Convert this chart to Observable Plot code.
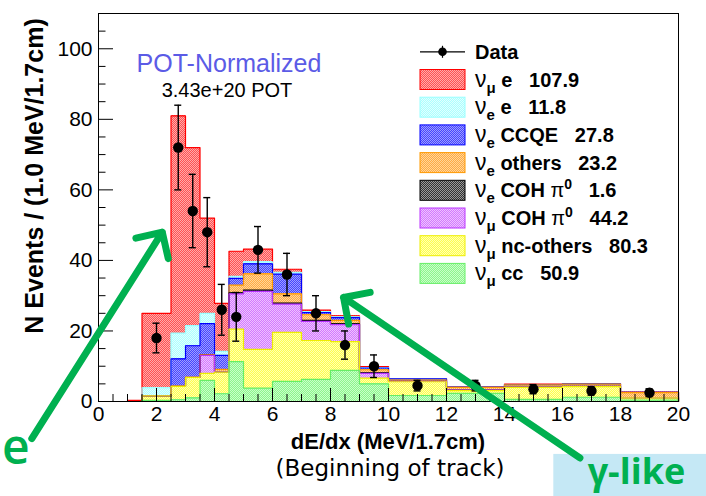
<!DOCTYPE html>
<html>
<head>
<meta charset="utf-8">
<script src="https://cdn.jsdelivr.net/npm/d3@7"></script>
<script src="https://cdn.jsdelivr.net/npm/@observablehq/plot@0.6"></script>
<style>
  html, body { margin: 0; padding: 0; background: #fff; }
  #chart { width: 706px; height: 496px; overflow: hidden; }
  #chart svg { display: block; }
</style>
</head>
<body>
<div id="chart"></div>
<script>
// Variable-width bins in dE/dx (MeV/1.7cm), contents normalised per 1.0 MeV/1.7cm
const binLow  = [1.0, 1.5, 2.5, 3.0, 3.5, 4.0, 4.5, 5, 6, 7, 8, 9, 10, 12, 14, 16, 18];
const binHigh = [1.5, 2.5, 3.0, 3.5, 4.0, 4.5, 5.0, 6, 7, 8, 9, 10, 12, 14, 16, 18, 20];

// MC contributions per bin (bottom of the stack first)
const numuCC     = [0, 0.3, 0.5, 1.0, 6.0, 2.2, 11.3, 3.8, 5.7, 6.3, 8.8, 5.0, 1.7, 2.3, 0.6, 1.2, 0.4];
const numuNC     = [0, 1.3, 3.8, 5.8, 2.0, 6.1, 9.2, 11.0, 13.9, 11.0, 8.2, 1.6, 3.9, 0.8, 3.4, 3.0, 0.6];
const numuCOHpi0 = [0, 0, 0, 0, 5.1, 0.1, 10.0, 16.4, 8.0, 5.4, 4.8, 1.4, 0.1, 0.1, 0.1, 0.1, 0.1];
const nueCOHpi0  = [0, 0, 0, 0, 0, 0, 0.3, 0.4, 0.3, 0.3, 0.2, 0.1, 0, 0, 0, 0, 0];
const nueOthers  = [0, 0, 0.1, 0.1, 0.2, 0.7, 2.2, 4.6, 2.6, 1.6, 1.0, 0.9, 0.4, 0.8, 0.6, 0.6, 1.4];
const nueCCQE    = [0, 0, 7.7, 8.9, 8.8, 4.0, 1.9, 2.8, 5.6, 0.6, 0.8, 0.5, 0.3, 0.1, 0.1, 0.1, 0.1];
const nueE       = [0, 2.3, 7.3, 5.7, 2.9, 1.1, 0.6, 0.6, 0.5, 0.3, 0.2, 0.1, 0, 0, 0, 0, 0];
const numuE      = [0.3, 21.1, 61.6, 50.5, 27.0, 13.6, 7.1, 3.6, 0.9, 0.4, 0.3, 0.3, 0.1, 0.1, 0.1, 0.1, 0.1];

// Data points with statistical errors
const dataX   = [2, 2.75, 3.25, 3.75, 4.25, 4.75, 5.5, 6.5, 7.5, 8.5, 9.5, 11, 13, 15, 17, 19];
const dataY   = [18, 72, 54, 48, 26, 24, 43, 36, 25, 16, 10, 4.5, 4.5, 3.5, 3.0, 2.5];
const dataErr = [4.2, 12, 10.4, 9.8, 7.2, 6.9, 6.6, 6.0, 5.0, 4.0, 3.2, 1.5, 1.5, 1.3, 1.2, 1.1];

// Legend (top to bottom)
const legendNu      = ["μ", "e", "e", "e", "e", "μ", "μ", "μ"];
const legendProcess = ["e", "e", "CCQE", "others", "COH", "COH", "nc-others", "cc"];
const legendPi0     = [false, false, false, false, true, true, false, false];
const legendTotal   = ["107.9", "11.8", "27.8", "23.2", "1.6", "44.2", "80.3", "50.9"];

// Axis ticks
const xMajor = [0, 2, 4, 6, 8, 10, 12, 14, 16, 18, 20];
const xMinor = [0.5,1,1.5,2.5,3,3.5,4.5,5,5.5,6.5,7,7.5,8.5,9,9.5,10.5,11,11.5,12.5,13,13.5,14.5,15,15.5,16.5,17,17.5,18.5,19,19.5];
const yMajor = [0, 20, 40, 60, 80, 100];
const yMinor = [5,10,15,25,30,35,45,50,55,65,70,75,85,90,95,105];

// Stack layers, bottom first, with their drawing styles
const layers = [
  {key: "numuCC",     values: numuCC,     dark: "#8df58d", light: "#c8ffc8", line: "#66ee66"},
  {key: "numuNC",     values: numuNC,     dark: "#ffff4a", light: "#ffffb4", line: "#eeee00"},
  {key: "numuCOHpi0", values: numuCOHpi0, dark: "#d27bff", light: "#efc2ff", line: "#bb33ff"},
  {key: "nueCOHpi0",  values: nueCOHpi0,  dark: "#333333", light: "#999999", line: "#000000"},
  {key: "nueOthers",  values: nueOthers,  dark: "#ffaa44", light: "#ffd699", line: "#ff9900"},
  {key: "nueCCQE",    values: nueCCQE,    dark: "#4646ff", light: "#9e9eff", line: "#0000ff"},
  {key: "nueE",       values: nueE,       dark: "#aaffff", light: "#e2ffff", line: "#99ffff"},
  {key: "numuE",      values: numuE,      dark: "#ff5252", light: "#ffaaaa", line: "#ff0000"}
];

// Cumulative stacking of the layers
const base = binLow.map(() => 0);
const boxes = [];
const outlines = [];
layers.forEach((L, k) => {
  L.values.forEach((v, i) => {
    if (v > 0) boxes.push({layer: k, x1: binLow[i], x2: binHigh[i], y1: base[i], y2: base[i] + v});
    base[i] += v;
  });
  const pts = [{x: binLow[0], y: 0}];
  base.forEach((t, i) => { pts.push({x: binLow[i], y: t}); pts.push({x: binHigh[i], y: t}); });
  pts.push({x: binHigh[binHigh.length - 1], y: 0});
  outlines[k] = pts;
});

const points = dataX.map((x, i) => ({x, y: dataY[i], e: dataErr[i]}));

// Overlay annotations, in axis units
const annotationArrows = [
  {x1: -2.3, y1: -10.5, x2: 2.2, y2: 48.0},
  {x1: 16.6, y1: -16.0, x2: 8.45, y2: 29.5}
];
const annotationE     = [{x: -2.85, y: -13.5, text: "e"}];
const annotationGamma = [{x: 18.55, y: -20.0, text: "γ-like"}];

const green = "#00b050";
const font = "'Liberation Sans', Arial, Helvetica, sans-serif";

const marks = [];
// γ-like label backdrop
marks.push(Plot.rect([{x1: 15.7, x2: 21.2, y1: -27.5, y2: -15.0}], {x1: "x1", x2: "x2", y1: "y1", y2: "y2", fill: "#c5e8f5"}));
// stacked fills
layers.forEach((L, k) => {
  marks.push(Plot.rect(boxes.filter(b => b.layer === k), {
    x1: "x1", x2: "x2", y1: "y1", y2: "y2", inset: 0,
    fill: `url(#pat-${L.key})`, shapeRendering: "crispEdges"
  }));
});
// histogram outlines, total first so lower layers paint over coincident edges
for (let k = layers.length - 1; k >= 0; k--) {
  marks.push(Plot.line(outlines[k], {x: "x", y: "y", stroke: layers[k].line, strokeWidth: 1.2}));
}
// axis ticks (inside the frame)
marks.push(
  Plot.ruleX(xMajor, {x: d => d, y1: 0, y2: 0, insetTop: -13, stroke: "#000", strokeWidth: 1}),
  Plot.ruleX(xMinor, {x: d => d, y1: 0, y2: 0, insetTop: -7, stroke: "#000", strokeWidth: 1}),
  Plot.ruleY(yMajor, {y: d => d, x1: 0, x2: 0, insetRight: -15, stroke: "#000", strokeWidth: 1}),
  Plot.ruleY(yMinor, {y: d => d, x1: 0, x2: 0, insetRight: -7.5, stroke: "#000", strokeWidth: 1})
);
// data with error bars
marks.push(
  Plot.ruleX(points, {x: "x", y1: d => d.y - d.e, y2: d => d.y + d.e, stroke: "#000", strokeWidth: 1.4}),
  Plot.ruleY(points, {y: d => d.y + d.e, x1: "x", x2: "x", insetLeft: -3.5, insetRight: -3.5, stroke: "#000", strokeWidth: 1.4}),
  Plot.ruleY(points, {y: d => d.y - d.e, x1: "x", x2: "x", insetLeft: -3.5, insetRight: -3.5, stroke: "#000", strokeWidth: 1.4}),
  Plot.dot(points, {x: "x", y: "y", r: 5.2, fill: "#000", stroke: "none"})
);
// axes and frame
marks.push(
  Plot.axisX(xMajor, {tickSize: 0, tickPadding: 5, fontSize: 21, label: null, fill: "#000"}),
  Plot.axisY(yMajor, {tickSize: 0, tickPadding: 6, fontSize: 21, label: null, fill: "#000"}),
  Plot.frame({stroke: "#000", strokeWidth: 1})
);
// green overlay arrows and labels
marks.push(
  Plot.arrow(annotationArrows, {x1: "x1", y1: "y1", x2: "x2", y2: "y2", stroke: green, strokeWidth: 7,
    headLength: 5.8, headAngle: 90, strokeLinecap: "round", strokeLinejoin: "round"}),
  Plot.text(annotationE, {x: "x", y: "y", text: "text", fill: green, fontSize: 48, fontFamily: "'Open Sans', 'DejaVu Sans', sans-serif", fontWeight: 600}),
  Plot.text(annotationGamma, {x: "x", y: "y", text: "text", fill: green, fontSize: 36, fontFamily: "'Open Sans', 'DejaVu Sans', sans-serif", fontWeight: 700})
);

const svg = Plot.plot({
  width: 706,
  height: 496,
  marginLeft: 98,
  marginRight: 28,
  marginTop: 13,
  marginBottom: 95,
  x: {domain: [0, 20]},
  y: {domain: [0, 110]},
  style: {fontFamily: font, background: "#fff", overflow: "visible", color: "#000"},
  marks
});

const root = d3.select(svg);

// checkered fill patterns
const defs = root.insert("defs", ":first-child");
layers.forEach(L => {
  const p = defs.append("pattern").attr("id", `pat-${L.key}`)
    .attr("patternUnits", "userSpaceOnUse").attr("width", 2).attr("height", 2);
  p.append("rect").attr("width", 2).attr("height", 2).attr("fill", L.dark).attr("shape-rendering", "crispEdges");
  p.append("rect").attr("width", 1).attr("height", 1).attr("fill", L.light).attr("shape-rendering", "crispEdges");
  p.append("rect").attr("x", 1).attr("y", 1).attr("width", 1).attr("height", 1).attr("fill", L.light).attr("shape-rendering", "crispEdges");
});

const g = root.append("g").attr("font-family", font).attr("fill", "#000").attr("text-anchor", "start");

// axis titles
g.append("text").attr("x", 388).attr("y", 449).attr("text-anchor", "middle")
  .attr("font-size", 22).attr("font-weight", "bold").text("dE/dx (MeV/1.7cm)");
g.append("text").attr("x", 390).attr("y", 476).attr("text-anchor", "middle")
  .attr("font-size", 23).attr("font-family", "'DejaVu Sans', sans-serif").text("(Beginning of track)");
g.append("text").attr("transform", "translate(43,176) rotate(-90)").attr("text-anchor", "middle")
  .attr("font-size", 25).attr("font-weight", "bold").text("N Events / (1.0 MeV/1.7cm)");

// normalisation note
g.append("text").attr("x", 229).attr("y", 72).attr("text-anchor", "middle")
  .attr("font-size", 25).attr("fill", "#5b5be6").text("POT-Normalized");
g.append("text").attr("x", 227).attr("y", 97).attr("text-anchor", "middle")
  .attr("font-size", 20).text("3.43e+20 POT");

// legend
const lg = g.append("g").attr("text-anchor", "start");
const rowY = i => 51.8 + i * 27.7;
const lx = 420, lw = 45, tx = 475;
lg.append("line").attr("x1", lx).attr("x2", lx + lw).attr("y1", rowY(0)).attr("y2", rowY(0)).attr("stroke", "#000").attr("stroke-width", 1.2);
lg.append("line").attr("x1", lx + lw / 2).attr("x2", lx + lw / 2).attr("y1", rowY(0) - 6).attr("y2", rowY(0) + 6).attr("stroke", "#000").attr("stroke-width", 1.2);
lg.append("circle").attr("cx", lx + lw / 2).attr("cy", rowY(0)).attr("r", 4.3).attr("fill", "#000");
lg.append("text").attr("x", tx).attr("y", rowY(0) + 7).attr("font-size", 20).attr("font-weight", "bold").text("Data");

const legendLayers = layers.slice().reverse();
legendLayers.forEach((L, j) => {
  const y = rowY(j + 1);
  lg.append("rect").attr("x", lx).attr("y", y - 10).attr("width", lw).attr("height", 20)
    .attr("fill", `url(#pat-${L.key})`).attr("stroke", L.line).attr("stroke-width", 1);
  const t = lg.append("text").attr("x", tx).attr("y", y + 7).attr("font-size", 20)
    .attr("font-weight", "bold").style("white-space", "pre");
  t.append("tspan").attr("font-weight", "normal").attr("font-size", 23).text("ν");
  t.append("tspan").attr("font-size", 15).attr("dy", 6).text(legendNu[j]);
  t.append("tspan").attr("dy", -6).text(" " + legendProcess[j] + (legendPi0[j] ? " " : ""));
  if (legendPi0[j]) {
    t.append("tspan").attr("font-weight", "normal").text("π");
    t.append("tspan").attr("font-size", 14).attr("dy", -8).text("0");
    t.append("tspan").attr("dy", 8).text("   " + legendTotal[j]);
  } else {
    t.append("tspan").text("   " + legendTotal[j]);
  }
});

document.getElementById("chart").appendChild(svg);
</script>
</body>
</html>
